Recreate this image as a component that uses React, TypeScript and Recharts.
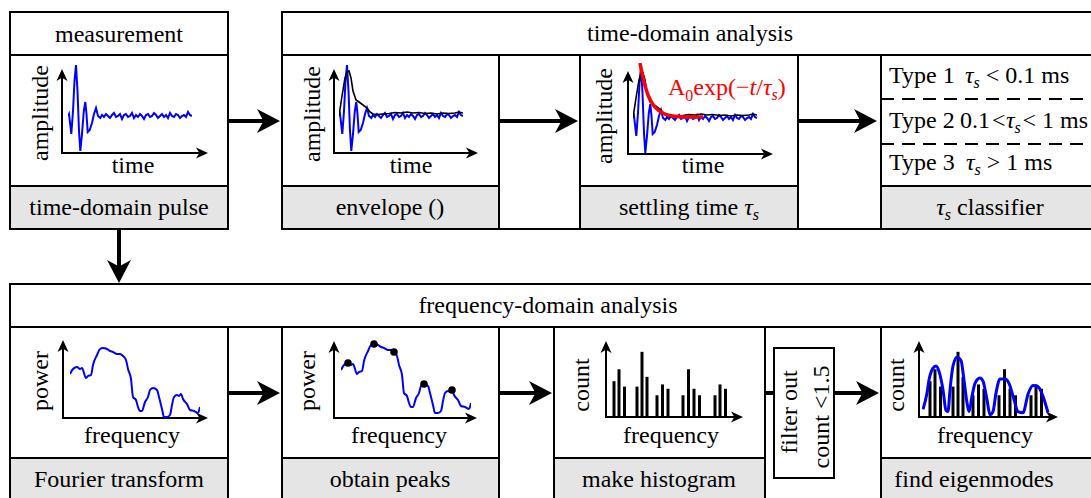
import React from 'react';
import { ComposedChart, Line, Bar, Scatter, XAxis, YAxis } from 'recharts';

const FONT = '"Liberation Serif", "Times New Roman", serif';
const GRAY = '#e5e5e5';

// time-domain pulse (time offset, amplitude above the baseline)
const pulseT = [0, 1, 3.3, 5, 6.5, 8, 9.5, 11, 12.3, 14, 15.8, 17.3, 18.5, 19.7, 21.7, 24, 26, 28, 30, 32.3,
  34, 36, 38, 40, 42, 44, 46, 48, 50, 52, 54, 56, 58, 60, 62, 64, 66, 68, 70, 72, 74, 76, 78, 80,
  82, 84, 86, 88, 90, 92, 94, 96, 98, 100, 102, 104, 106, 108, 110, 112, 114, 116, 118, 120, 122, 124];
const pulseA = [0, 2, -18, 5, 35, 51, 25, -15, -35, -18, 5, 14, 2, -16, -14, -7, 2, 8, 0, -2,
  1, -1, 2, 0, -2, 1, 3, -1, 0, 2, -3, 1, 2, -1, 0, 3, -2, 1, -1, 2, 0, -3, 1, 2,
  -1, 0, 3, 1, -2, 0, 2, -1, 1, -2, 3, 0, -1, 2, 1, -2, 0, 1, -1, 4, 1, 0];

// envelope of the pulse
const envT = [0, 3, 6, 8, 10, 12, 14, 17, 20, 24, 28, 31, 34, 38, 44, 50, 56, 62, 68, 74, 80, 86, 92, 98, 104, 110, 116, 120, 124];
const envA = [0, 20, 38, 44, 45, 38, 25, 16, 14, 11, 8, 4, 2, 1.5, 2, 2.5, 3.5, 3, 4, 3, 3.5, 2.5, 3, 2, 3, 2.5, 3, 4, 3];

// exponential fit A0 exp(-t/tau_s)
const fitT = [7, 9, 11, 13, 15, 18, 21, 24, 28, 32, 37, 44, 52, 60, 70];
const fitA = [55, 45, 36, 29, 23, 17, 12, 9, 6, 4, 2.5, 1.5, 1, 1, 1];

// power spectrum
const freqF = [0, 3, 7, 10, 12, 16, 18, 21, 23, 27, 30, 33, 37, 40, 43, 47, 50, 53, 56, 58, 61, 63, 66, 68, 70,
  72, 75, 78, 80, 83, 87, 89, 92, 94, 97, 100, 102, 104, 107, 109, 111, 113, 117, 120, 124, 128, 130];
const freqP = [44, 49, 51, 49, 50, 40, 42, 43, 53, 63, 69, 70, 69, 67, 66, 64, 64, 62, 58, 49, 39, 21, 18, 11, 7,
  7, 16, 21, 28, 30, 28, 21, 9, 1, 1, 3, 13, 21, 23, 22, 24, 19, 14, 8, 7, 5, 11];
const peakF = [7, 33, 53, 83, 111];

// histogram of peak frequencies
const binF = [8, 13, 18.5, 31, 36, 41, 51, 56.5, 62, 77, 82.5, 88, 93.5, 109, 114, 119.5];
const binCount = [3.3, 4.4, 2.8, 2.8, 6, 3.7, 2, 3, 2.6, 2, 4.4, 2.6, 2, 2, 3, 2.6];

// eigenmode fit
const eigF = [1, 5, 7, 11, 14, 17, 21, 24, 26, 28, 31, 35, 39, 42, 45, 47, 50, 53, 58, 61, 65, 68, 71, 74, 78,
  83, 87, 92, 96, 101, 106, 111, 116, 121, 126];
const eigC = [0.7, 2.2, 3.4, 4.5, 4.7, 4.2, 2.5, 0.6, 0.5, 2.5, 4.7, 5.5, 5.2, 3.4, 1.3, 0.5, 1.9, 3.1, 3.6, 3.3,
  1.6, 0.2, 0.5, 2.2, 3.5, 3.5, 3.1, 1.6, 0.5, 0.4, 2.1, 2.9, 2.8, 1.9, 0.4];

const zip = (xs: number[], ys: number[]) => xs.map((x, i) => ({ x, y: ys[i] }));
const pulse = zip(pulseT, pulseA);
const envelope = zip(envT, envA);
const fit = zip(fitT, fitA);
const spectrum = zip(freqF, freqP);
const peaks = spectrum.filter((d) => peakF.includes(d.x));
const hist = zip(binF, binCount);
const eigen = zip(eigF, eigC);

function Mini({ left, top, width, height, xDomain, yDomain, data, children }: any) {
  return (
    <div style={{ position: 'absolute', left, top }}>
      <ComposedChart width={width} height={height} data={data} margin={{ top: 0, right: 0, bottom: 0, left: 0 }}>
        <XAxis type="number" dataKey="x" domain={xDomain} hide />
        <YAxis type="number" dataKey="y" domain={yDomain} hide />
        {children}
      </ComposedChart>
    </div>
  );
}

function head(x: number, y: number, dir: string, len: number, half: number) {
  let p: number[][];
  if (dir === 'right') p = [[x, y], [x - len, y - half], [x - len * 0.72, y], [x - len, y + half]];
  else if (dir === 'up') p = [[x, y], [x - half, y + len], [x, y + len * 0.72], [x + half, y + len]];
  else p = [[x, y], [x - half, y - len], [x, y - len * 0.72], [x + half, y - len]];
  return <polygon points={p.map((q) => q.join(',')).join(' ')} fill="#000" />;
}

function Arrow({ x1, y1, x2, y2, big = true }: any) {
  const len = big ? 23 : 12;
  const half = big ? 12 : 5.5;
  const dir = x2 > x1 ? 'right' : y2 < y1 ? 'up' : 'down';
  const ex = dir === 'right' ? x2 - len * 0.7 : x2;
  const ey = dir === 'up' ? y2 + len * 0.7 : dir === 'down' ? y2 - len * 0.7 : y2;
  return (
    <g>
      <line x1={x1} y1={y1} x2={ex} y2={ey} stroke="#000" strokeWidth={big ? 4 : 2} />
      {head(x2, y2, dir, len, half)}
    </g>
  );
}

function Axes({ ox, oy, yt, xt }: any) {
  return (
    <g>
      <Arrow x1={ox} y1={oy + 1} x2={ox} y2={yt} big={false} />
      <Arrow x1={ox - 1} y1={oy} x2={xt} y2={oy} big={false} />
    </g>
  );
}

function T({ x, y, children, anchor = 'middle', rot = false, fill = '#000', size = 24 }: any) {
  return (
    <text x={x} y={y} textAnchor={anchor} fontSize={size} fill={fill} fontFamily={FONT}
      transform={rot ? `rotate(-90 ${x} ${y})` : undefined}>
      {children}
    </text>
  );
}

// italic tau with subscript s, optionally followed by more text on the baseline
const Tau = ({ rest = '' }: any) => (
  <>
    <tspan fontStyle="italic">τ</tspan>
    <tspan fontStyle="italic" fontSize={16} dy={5}>s</tspan>
    {rest ? <tspan dy={-5}>{rest}</tspan> : null}
  </>
);

function Box({ x, y, w, h, fill = 'none' }: any) {
  return <rect x={x} y={y} width={w} height={h} fill={fill} stroke="#000" strokeWidth={2} />;
}

export default function App() {
  return (
    <div style={{ position: 'absolute', left: 0, top: 0, width: 1091, height: 498, overflow: 'hidden', background: '#fff' }}>
      <svg width={1091} height={498} style={{ position: 'absolute', left: 0, top: 0 }}>
        {/* top row */}
        <Box x={10} y={12} w={218} h={217} />
        <line x1={10} y1={55} x2={228} y2={55} stroke="#000" strokeWidth={2} />
        <Box x={10} y={186} w={218} h={43} fill={GRAY} />
        <Box x={282} y={12} w={817} h={217} />
        <line x1={282} y1={55} x2={1099} y2={55} stroke="#000" strokeWidth={2} />
        <Box x={282} y={55} w={217} h={174} />
        <Box x={282} y={186} w={217} h={43} fill={GRAY} />
        <Box x={580} y={55} w={218} h={174} />
        <Box x={580} y={186} w={218} h={43} fill={GRAY} />
        <Box x={881} y={55} w={218} h={174} />
        <Box x={881} y={186} w={218} h={43} fill={GRAY} />
        <line x1={881} y1={99} x2={1099} y2={99} stroke="#000" strokeWidth={2} strokeDasharray="13 8" />
        <line x1={881} y1={144} x2={1099} y2={144} stroke="#000" strokeWidth={2} strokeDasharray="13 8" />

        {/* bottom row */}
        <Box x={10} y={284} w={1089} h={240} />
        <line x1={10} y1={327} x2={1099} y2={327} stroke="#000" strokeWidth={2} />
        <Box x={10} y={327} w={218} h={190} />
        <Box x={10} y={458} w={218} h={60} fill={GRAY} />
        <Box x={282} y={327} w={217} h={190} />
        <Box x={282} y={458} w={217} h={60} fill={GRAY} />
        <Box x={554} y={327} w={211} h={190} />
        <Box x={554} y={458} w={211} h={60} fill={GRAY} />
        <Box x={881} y={327} w={218} h={190} />
        <Box x={881} y={458} w={218} h={60} fill={GRAY} />
        <Box x={774} y={348} w={60} h={130} fill="#fff" />

        {/* flow arrows */}
        <Arrow x1={228} y1={121} x2={280} y2={121} />
        <Arrow x1={499} y1={121} x2={578} y2={121} />
        <Arrow x1={798} y1={121} x2={877} y2={121} />
        <Arrow x1={119} y1={229} x2={119} y2={283} />
        <Arrow x1={228} y1={393} x2={280} y2={393} />
        <Arrow x1={499} y1={393} x2={552} y2={393} />
        <line x1={765} y1={393} x2={774} y2={393} stroke="#000" strokeWidth={4} />
        <Arrow x1={834} y1={393} x2={879} y2={393} />

        {/* mini chart axes */}
        <Axes ox={62} oy={153} yt={69} xt={208} />
        <Axes ox={334} oy={153} yt={69} xt={478} />
        <Axes ox={628} oy={154} yt={71} xt={773} />
        <Axes ox={63} oy={418} yt={340} xt={208} />
        <Axes ox={334} oy={418} yt={341} xt={477} />
        <Axes ox={606} oy={417} yt={341} xt={743} />
        <Axes ox={919} oy={417} yt={341} xt={1058} />

        {/* texts */}
        <T x={119} y={42}>measurement</T>
        <T x={119} y={215}>time-domain pulse</T>
        <T x={690} y={41}>time-domain analysis</T>
        <T x={390} y={215}>envelope ()</T>
        <T x={689} y={215}>settling time <Tau /></T>
        <T x={990} y={215}><Tau rest=" classifier" /></T>
        <T x={889} y={83} anchor="start">Type 1</T>
        <T x={965} y={83} anchor="start"><Tau rest=" < 0.1 ms" /></T>
        <T x={889} y={128} anchor="start">Type 2</T>
        <T x={960} y={128} anchor="start">0.1</T>
        <T x={992} y={128} anchor="start">&lt;</T>
        <T x={1006} y={128} anchor="start"><Tau /></T>
        <T x={1088} y={128} anchor="end">&lt; 1 ms</T>
        <T x={889} y={170} anchor="start">Type 3</T>
        <T x={966} y={170} anchor="start"><Tau rest=" > 1 ms" /></T>

        <T x={548} y={313}>frequency-domain analysis</T>
        <T x={119} y={487}>Fourier transform</T>
        <T x={390} y={487}>obtain peaks</T>
        <T x={659} y={487}>make histogram</T>
        <T x={974} y={487}>find eigenmodes</T>
        <T x={797} y={412} rot>filter out</T>
        <T x={829} y={417} rot>count &lt;1.5</T>

        <T x={48} y={113} rot>amplitude</T>
        <T x={133} y={173}>time</T>
        <T x={320} y={114} rot>amplitude</T>
        <T x={411} y={173}>time</T>
        <T x={612} y={116} rot>amplitude</T>
        <T x={703} y={173}>time</T>
        <T x={48} y={381} rot>power</T>
        <T x={132} y={443}>frequency</T>
        <T x={315} y={381} rot>power</T>
        <T x={399} y={443}>frequency</T>
        <T x={589} y={385} rot>count</T>
        <T x={671} y={443}>frequency</T>
        <T x={904} y={385} rot>count</T>
        <T x={985} y={443}>frequency</T>

        <T x={668} y={95} anchor="start" fill="#ff0000">
          A<tspan fontSize={16} dy={6}>0</tspan><tspan dy={-6}>exp(−</tspan><tspan fontStyle="italic">t</tspan><tspan>/</tspan><Tau rest=")" />
        </T>
      </svg>

      {/* measured pulse */}
      <Mini left={68} top={61} width={124} height={95} xDomain={[0, 124]} yDomain={[-40, 55]}>
        <Line data={pulse} dataKey="y" type="linear" stroke="#0000ff" strokeWidth={2} dot={false} isAnimationActive={false} />
      </Mini>
      {/* envelope */}
      <Mini left={339} top={61} width={124} height={95} xDomain={[0, 124]} yDomain={[-40, 55]}>
        <Line data={pulse} dataKey="y" type="linear" stroke="#0000ff" strokeWidth={2} dot={false} isAnimationActive={false} />
        <Line data={envelope} dataKey="y" type="linear" stroke="#000" strokeWidth={1.6} dot={false} isAnimationActive={false} />
      </Mini>
      {/* settling time */}
      <Mini left={633} top={63} width={124} height={95} xDomain={[0, 124]} yDomain={[-40, 55]}>
        <Line data={pulse} dataKey="y" type="linear" stroke="#0000ff" strokeWidth={2} dot={false} isAnimationActive={false} />
        <Line data={envelope} dataKey="y" type="linear" stroke="#000" strokeWidth={1.6} dot={false} isAnimationActive={false} />
        <Line data={fit} dataKey="y" type="monotone" stroke="#ff0000" strokeWidth={3.5} dot={false} isAnimationActive={false} />
      </Mini>
      {/* Fourier transform */}
      <Mini left={70} top={343} width={130} height={75} xDomain={[0, 130]} yDomain={[0, 75]}>
        <Line data={spectrum} dataKey="y" type="monotone" stroke="#0000ff" strokeWidth={2} dot={false} isAnimationActive={false} />
      </Mini>
      {/* obtain peaks */}
      <Mini left={341} top={339} width={130} height={75} xDomain={[0, 130]} yDomain={[0, 75]}>
        <Line data={spectrum} dataKey="y" type="monotone" stroke="#0000ff" strokeWidth={2} dot={false} isAnimationActive={false} />
        <Scatter data={peaks} dataKey="y" fill="#000" isAnimationActive={false}
          shape={(p: any) => <circle cx={p.cx} cy={p.cy} r={3.8} fill="#000" />} />
      </Mini>
      {/* histogram */}
      <Mini left={606} top={341} width={137} height={76} xDomain={[0, 137]} yDomain={[0, 7]} data={hist}>
        <Bar dataKey="y" fill="#000" barSize={3} isAnimationActive={false} />
      </Mini>
      {/* eigenmodes: histogram bars with the fitted curve on top */}
      <Mini left={922} top={341} width={137} height={76} xDomain={[0, 137]} yDomain={[0, 7]} data={hist}>
        <Bar dataKey="y" fill="#000" barSize={3} isAnimationActive={false} />
      </Mini>
      <Mini left={922} top={341} width={137} height={76} xDomain={[0, 137]} yDomain={[0, 7]}>
        <Line data={eigen} dataKey="y" type="monotone" stroke="#0000ff" strokeWidth={3} dot={false} isAnimationActive={false} />
      </Mini>
    </div>
  );
}
